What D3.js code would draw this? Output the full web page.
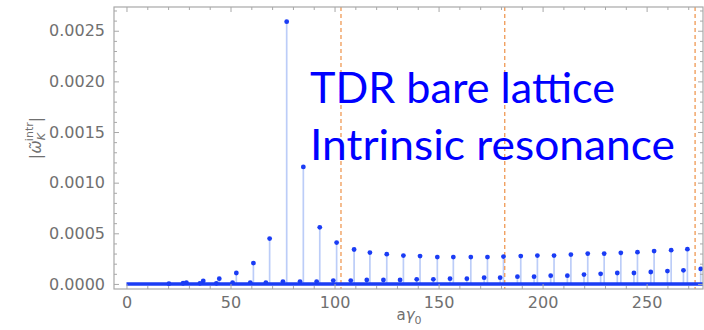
<!DOCTYPE html>
<html>
<head>
<meta charset="utf-8">
<script src="https://cdn.jsdelivr.net/npm/d3@7"></script>
<style>
html, body { margin: 0; padding: 0; background: #fff; }
svg { display: block; }
</style>
</head>
<body>
<svg id="chart" width="704" height="330"></svg>
<script>
// ---- data ----
const primaryK = [28.8, 36.9, 44.6, 52.8, 61, 68.8, 77, 85, 92.9, 101, 109.4, 117, 125.1, 133.1, 141.1, 149.4, 157.1, 165.5, 173.5, 181.2, 189.5, 197.5, 205.5, 213.6, 221.7, 229.6, 237.6, 245.6, 253.6, 261.8, 269.6];
const primaryVal = [0.000013, 0.00003, 0.000052, 0.000108, 0.000206, 0.000448, 0.00259, 0.001155, 0.000559, 0.000408, 0.00034, 0.00031, 0.000294, 0.00028, 0.000275, 0.000265, 0.000265, 0.000265, 0.000265, 0.00027, 0.000275, 0.00028, 0.00028, 0.00029, 0.0003, 0.0003, 0.000307, 0.000314, 0.000324, 0.000333, 0.000343];
const secondaryK = [20.4, 27.2, 35.3, 43.2, 51, 59.5, 67, 75.2, 83.4, 91.4, 99.4, 107.8, 115.5, 123.5, 131.5, 139.5, 147.5, 155.5, 163.6, 171.9, 179.6, 187.9, 195.9, 203.9, 211.9, 219.9, 227.9, 235.9, 243.9, 252, 260, 267.7, 276];
const secondaryVal = [0.000003, 0.000007, 0.000006, 0.000006, 0.000013, 0.000013, 0.000013, 0.000023, 0.000023, 0.000023, 0.000033, 0.000033, 0.000039, 0.000039, 0.00004, 0.000046, 0.000046, 0.000052, 0.000052, 0.000062, 0.000062, 0.000072, 0.000072, 0.000082, 0.000082, 0.000092, 0.0001, 0.000108, 0.000108, 0.000118, 0.000127, 0.000134, 0.000148];
const baselineExtent = [0, 277.1];
const markerLines = [103.1, 181.8, 273.3];
const xTicks = [0, 50, 100, 150, 200, 250];
const yTicks = [0, 0.0005, 0.001, 0.0015, 0.002, 0.0025];
const annotation = ["TDR bare lattice", "Intrinsic resonance"];

// ---- layout ----
const L = 114, R = 703, T = 7, B = 289;
const svg = d3.select("#chart");
const x = d3.scaleLinear().domain([-6, 277.1]).range([L, R]);
const y = d3.scaleLinear().domain([-0.00005, 0.0027345]).range([B, T]);

const frameColor = "#a8a8a8";
const labelColor = "#707070";
const dotColor = "#1a3cf5";
const stemColor = "#bccdf8";

svg.append("defs").append("clipPath").attr("id", "plotclip")
  .append("rect").attr("x", L).attr("y", T).attr("width", R - L).attr("height", B - T);
const plot = svg.append("g").attr("clip-path", "url(#plotclip)");

const prim = primaryK.map((k, i) => ({k, v: primaryVal[i]}));
const sec = secondaryK.map((k, i) => ({k, v: secondaryVal[i]}));
const allPts = prim.concat(sec);
plot.selectAll("line.stem").data(allPts).enter().append("line")
  .attr("class", "stem")
  .attr("x1", d => x(d.k)).attr("x2", d => x(d.k))
  .attr("y1", y(0)).attr("y2", d => y(d.v))
  .attr("stroke", stemColor).attr("stroke-width", 1.7);

plot.selectAll("line.mark").data(markerLines).enter().append("line")
  .attr("class", "mark")
  .attr("x1", d => x(d)).attr("x2", d => x(d))
  .attr("y1", T).attr("y2", B)
  .attr("stroke", "#f0a060").attr("stroke-width", 1.4)
  .attr("stroke-dasharray", "4,3");

plot.append("line")
  .attr("x1", x(baselineExtent[0])).attr("x2", x(baselineExtent[1]))
  .attr("y1", y(0)).attr("y2", y(0))
  .attr("stroke", dotColor).attr("stroke-width", 3.5);

plot.selectAll("circle.dot").data(allPts).enter().append("circle")
  .attr("class", "dot")
  .attr("cx", d => x(d.k)).attr("cy", d => y(d.v))
  .attr("r", 2.4).attr("fill", dotColor);

// ---- frame and axes ----
const font = "DejaVu Sans, Liberation Sans, sans-serif";
svg.append("rect").attr("x", L).attr("y", T).attr("width", R - L).attr("height", B - T)
  .attr("fill", "none").attr("stroke", frameColor).attr("stroke-width", 1.2);

const xMinor = d3.range(0, 280, 10).filter(v => v % 50 !== 0);
const yMinor = d3.range(0, 0.00271, 0.0001).filter(v => Math.abs(Math.round(v * 10000) % 5) !== 0);

function styleAxis(g) {
  g.select(".domain").remove();
  g.selectAll(".tick line").attr("stroke", frameColor);
}

const gB = svg.append("g").attr("transform", `translate(0,${B})`)
  .call(d3.axisBottom(x).tickValues(xTicks).tickSizeInner(-5).tickSizeOuter(0).tickPadding(8).tickFormat(d3.format("d")));
styleAxis(gB);
gB.selectAll(".tick text").attr("fill", labelColor).style("font-family", font).style("font-size", "16px");
styleAxis(svg.append("g").attr("transform", `translate(0,${B})`).call(d3.axisBottom(x).tickValues(xMinor).tickSizeInner(-3).tickSizeOuter(0).tickFormat("")));

styleAxis(svg.append("g").attr("transform", `translate(0,${T})`).call(d3.axisTop(x).tickValues(xTicks).tickSizeInner(-5).tickSizeOuter(0).tickFormat("")));
styleAxis(svg.append("g").attr("transform", `translate(0,${T})`).call(d3.axisTop(x).tickValues(xMinor).tickSizeInner(-3).tickSizeOuter(0).tickFormat("")));

const gL = svg.append("g").attr("transform", `translate(${L},0)`)
  .call(d3.axisLeft(y).tickValues(yTicks).tickSizeInner(-5).tickSizeOuter(0).tickPadding(9).tickFormat(d3.format(".4f")));
styleAxis(gL);
gL.selectAll(".tick text").attr("fill", labelColor).style("font-family", font).style("font-size", "16px");
styleAxis(svg.append("g").attr("transform", `translate(${L},0)`).call(d3.axisLeft(y).tickValues(yMinor).tickSizeInner(-3).tickSizeOuter(0).tickFormat("")));

styleAxis(svg.append("g").attr("transform", `translate(${R},0)`).call(d3.axisRight(y).tickValues(yTicks).tickSizeInner(-5).tickSizeOuter(0).tickFormat("")));
styleAxis(svg.append("g").attr("transform", `translate(${R},0)`).call(d3.axisRight(y).tickValues(yMinor).tickSizeInner(-3).tickSizeOuter(0).tickFormat("")));

// axis titles
const xl = svg.append("text").attr("x", 409).attr("y", 320).attr("text-anchor", "middle")
  .attr("fill", labelColor).style("font-family", font).style("font-size", "15px");
xl.append("tspan").text("a");
xl.append("tspan").attr("font-style", "italic").text("γ");
xl.append("tspan").attr("dy", 4).style("font-size", "11px").text("0");

const yl = svg.append("text").attr("transform", "translate(41,138) rotate(-90)").attr("text-anchor", "middle")
  .attr("fill", labelColor).style("font-family", font).style("font-size", "16px");
yl.append("tspan").text("|");
yl.append("tspan").attr("font-style", "italic").text("ω\u0303");
yl.append("tspan").attr("dy", 4).attr("font-style", "italic").style("font-size", "11px").text("K");
yl.append("tspan").attr("dx", -8).attr("dy", -12).style("font-size", "11px").text("intr");
yl.append("tspan").attr("dy", 8).text("|");

const ann = svg.append("g");
ann.selectAll("text").data(annotation).enter().append("text")
  .attr("x", 310).attr("y", (d, i) => 103 + i * 57)
  .attr("fill", "#0000ff")
  .style("font-family", "Lato, Open Sans, sans-serif").style("font-size", "43px")
  .attr("textLength", (d, i) => i === 0 ? 305 : 365)
  .attr("lengthAdjust", "spacingAndGlyphs")
  .text(d => d);
</script>
</body>
</html>
